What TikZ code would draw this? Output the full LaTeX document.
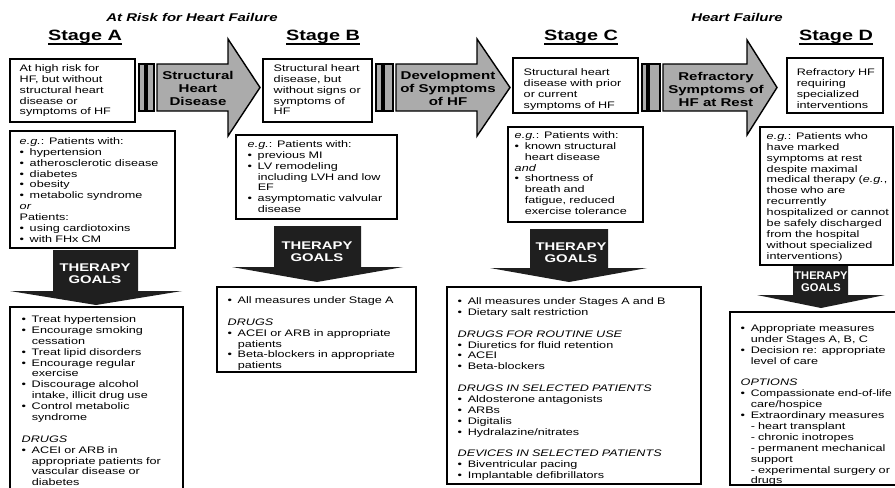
\documentclass[tikz,border=0pt]{standalone}
\usepackage{fontspec}
\usepackage{graphicx}
\setmainfont{Liberation Sans}[FakeStretch=1.33]
\usetikzlibrary{positioning,fit,calc}

\setlength{\parindent}{0pt}
\setlength{\parskip}{0pt}
\newcommand{\bodyfont}{\fontsize{5.4}{6.2}\selectfont}
\newcommand{\bul}{\par\noindent\hbox to 5.7pt{\textbullet\hfil}}
\newcommand{\cont}{\par\noindent\hbox to 5.7pt{\hfil}}
\newcommand{\blankline}{\par\vspace{6.2pt}}
\newcommand{\stagehead}[1]{\setbox0\hbox{#1}\rlap{\rule[-2.6pt]{\wd0}{0.8pt}}\box0}

\begin{document}
\begin{tikzpicture}[
    x=0.02cm, y=-0.02cm,
    box/.style={draw, line width=0.7pt, inner sep=0pt},
    txt/.style={anchor=north west, inner sep=0pt, text width=5cm, align=left, font=\bodyfont},
    stage/.style={anchor=base, inner sep=0pt, font=\bfseries\fontsize{8.5}{9}\selectfont},
    title/.style={anchor=base, inner sep=0pt, font=\bfseries\itshape\fontsize{6.4}{7}\selectfont},
    band/.style={draw, line width=0.8pt, fill=black!33},
    bandtxt/.style={inner sep=0pt, align=center, font=\bfseries\fontsize{6.45}{7.4}\selectfont},
    goal/.style={fill=black!88},
    goaltxt/.style={inner sep=0pt, align=center, text=white, font=\bfseries\fontsize{6.35}{6.9}\selectfont}
]
\clip (0,0) rectangle (895,487);

% Titles
\node[title] (riskhead) at (192,21.5) {At Risk for Heart Failure};
\node[title] (hfhead) at (737,21.5) {Heart Failure};

% Stage headings
\node[stage] (hA) at (85,40) {\stagehead{Stage A}};
\node[stage] (hB) at (323,40) {\stagehead{Stage B}};
\node[stage] (hC) at (581,40) {\stagehead{Stage C}};
\node[stage] (hD) at (836,40) {\stagehead{Stage D}};

% Stage boxes
\node[box, fit={(10,59) (135,122)}] (stA) {};
\node[txt] (stAt) at ([shift={(10,5.8)}]stA.north west) {At high risk for\\HF, but without\\structural heart\\disease or\\symptoms of HF};
\node[box, fit={(263,59) (372,122)}] (stB) {};
\node[txt] (stBt) at ([shift={(11,5.8)}]stB.north west) {Structural heart\\disease, but\\without signs or\\symptoms of\\HF};
\node[box, fit={(513,58) (638,113)}] (stC) {};
\node[txt] (stCt) at ([shift={(11,10.8)}]stC.north west) {Structural heart\\disease with prior\\or current\\symptoms of HF};
\node[box, fit={(787,58) (883,113)}] (stD) {};
\node[txt] (stDt) at ([shift={(10,10.8)}]stD.north west) {Refractory HF\\requiring\\specialized\\interventions};

% Transition arrows
\draw[band] (139,64) rectangle (145,111);
\draw[band] (147,64) rectangle (154,111);
\draw[band] (157,64) -- (228,64) -- (228,39) -- (260,87.5) -- (228,136) -- (228,111) -- (157,111) -- cycle;
\node[bandtxt] (arrAB) at (198,88) {Structural\\Heart\\Disease};

\draw[band] (376,64) rectangle (382,111);
\draw[band] (384,64) rectangle (393,111);
\draw[band] (396,64) -- (477,64) -- (477,39) -- (510,87.5) -- (477,136) -- (477,111) -- (396,111) -- cycle;
\node[bandtxt] (arrBC) at (448,88) {Development\\of Symptoms\\of HF};

\draw[band] (642,64) rectangle (647,111);
\draw[band] (649,64) rectangle (660,111);
\draw[band] (663,64) -- (747,64) -- (747,40) -- (777,87.5) -- (747,135) -- (747,111) -- (663,111) -- cycle;
\node[bandtxt] (arrCD) at (716,89) {Refractory\\Symptoms of\\HF at Rest};

% Example patients
\node[box, fit={(10,131) (175,248)}] (exA) {};
\node[txt] (exAt) at ([shift={(10,6.8)}]exA.north west) {\textit{e.g.}: Patients with:
  \bul hypertension
  \bul atherosclerotic disease
  \bul diabetes
  \bul obesity
  \bul metabolic syndrome
  \par\textit{or}
  \par Patients:
  \bul using cardiotoxins
  \bul with FHx CM};
\node[box, fit={(236,135) (397,219)}] (exB) {};
\node[txt] (exBt) at ([shift={(12,5.8)}]exB.north west) {\textit{e.g.}: Patients with:
  \bul previous MI
  \bul LV remodeling\cont including LVH and low\cont EF
  \bul asymptomatic valvular\cont disease};
\node[box, fit={(508,127) (643,222)}] (exC) {};
\node[txt] (exCt) at ([shift={(7,4.8)}]exC.north west) {\textit{e.g.}: Patients with:
  \bul known structural\cont heart disease
  \par\textit{and}
  \bul shortness of\cont breath and\cont fatigue, reduced\cont exercise tolerance};
\node[box, fit={(760,127) (893,265)}] (exD) {};
\node[txt] (exDt) at ([shift={(7,5.8)}]exD.north west) {\textit{e.g.}: Patients who\\have marked\\symptoms at rest\\despite maximal\\medical therapy (\textit{e.g.},\\those who are\\recurrently\\hospitalized or cannot\\be safely discharged\\from the hospital\\without specialized\\interventions)};

% Therapy goals arrows
\fill[goal] (53,250) -- (138,250) -- (138,291) -- (182,291) -- (96,305) -- (10,291) -- (53,291) -- cycle;
\node[goaltxt] (tgA) at (95,274) {THERAPY\\GOALS};
\fill[goal] (274,226) -- (361,226) -- (361,267) -- (403,267) -- (317,282) -- (232,267) -- (274,267) -- cycle;
\node[goaltxt] (tgB) at (317,252) {THERAPY\\GOALS};
\fill[goal] (530,229) -- (608,229) -- (608,268) -- (647,268) -- (569,282) -- (490,268) -- (530,268) -- cycle;
\node[goaltxt] (tgC) at (571,253) {THERAPY\\GOALS};
\fill[goal] (793,266) -- (848,266) -- (848,295) -- (885,295) -- (821,308) -- (757,295) -- (793,295) -- cycle;
\node[goaltxt] (tgD) at (821,282) {\scalebox{0.75}[1]{THERAPY}\\\scalebox{0.75}[1]{GOALS}};

% Goals boxes
\node[box, fit={(10,307) (183,495)}] (gA) {};
\node[txt] (gAt) at ([shift={(12,4.8)}]gA.north west) {\bul Treat hypertension
  \bul Encourage smoking\cont cessation
  \bul Treat lipid disorders
  \bul Encourage regular\cont exercise
  \bul Discourage alcohol\cont intake, illicit drug use
  \bul Control metabolic\cont syndrome
  \blankline\textit{DRUGS}
  \bul ACEI or ARB in\cont appropriate patients for\cont vascular disease or\cont diabetes};
\node[box, fit={(217,287) (416,372)}] (gB) {};
\node[txt] (gBt) at ([shift={(11,5.8)}]gB.north west) {\bul All measures under Stage A
  \blankline\textit{DRUGS}
  \bul ACEI or ARB in appropriate\cont patients
  \bul Beta-blockers in appropriate\cont patients};
\node[box, fit={(447,287) (701,484)}] (gC) {};
\node[txt] (gCt) at ([shift={(11,6.8)}]gC.north west) {\bul All measures under Stages A and B
  \bul Dietary salt restriction
  \blankline\textit{DRUGS FOR ROUTINE USE}
  \bul Diuretics for fluid retention
  \bul ACEI
  \bul Beta-blockers
  \blankline\textit{DRUGS IN SELECTED PATIENTS}
  \bul Aldosterone antagonists
  \bul ARBs
  \bul Digitalis
  \bul Hydralazine/nitrates
  \blankline\textit{DEVICES IN SELECTED PATIENTS}
  \bul Biventricular pacing
  \bul Implantable defibrillators};
\node[box, fit={(730,312) (900,485)}] (gD) {};
\node[txt] (gDt) at ([shift={(11,8.8)}]gD.north west) {\bul Appropriate measures\cont under Stages A, B, C
  \bul Decision re: appropriate\cont level of care
  \blankline\textit{OPTIONS}
  \bul \scalebox{0.96}[1]{Compassionate end-of-life}\cont care/hospice
  \bul Extraordinary measures\cont - heart transplant\cont - chronic inotropes\cont - permanent mechanical\cont support\cont - experimental surgery or\cont drugs};

\end{tikzpicture}
\end{document}
